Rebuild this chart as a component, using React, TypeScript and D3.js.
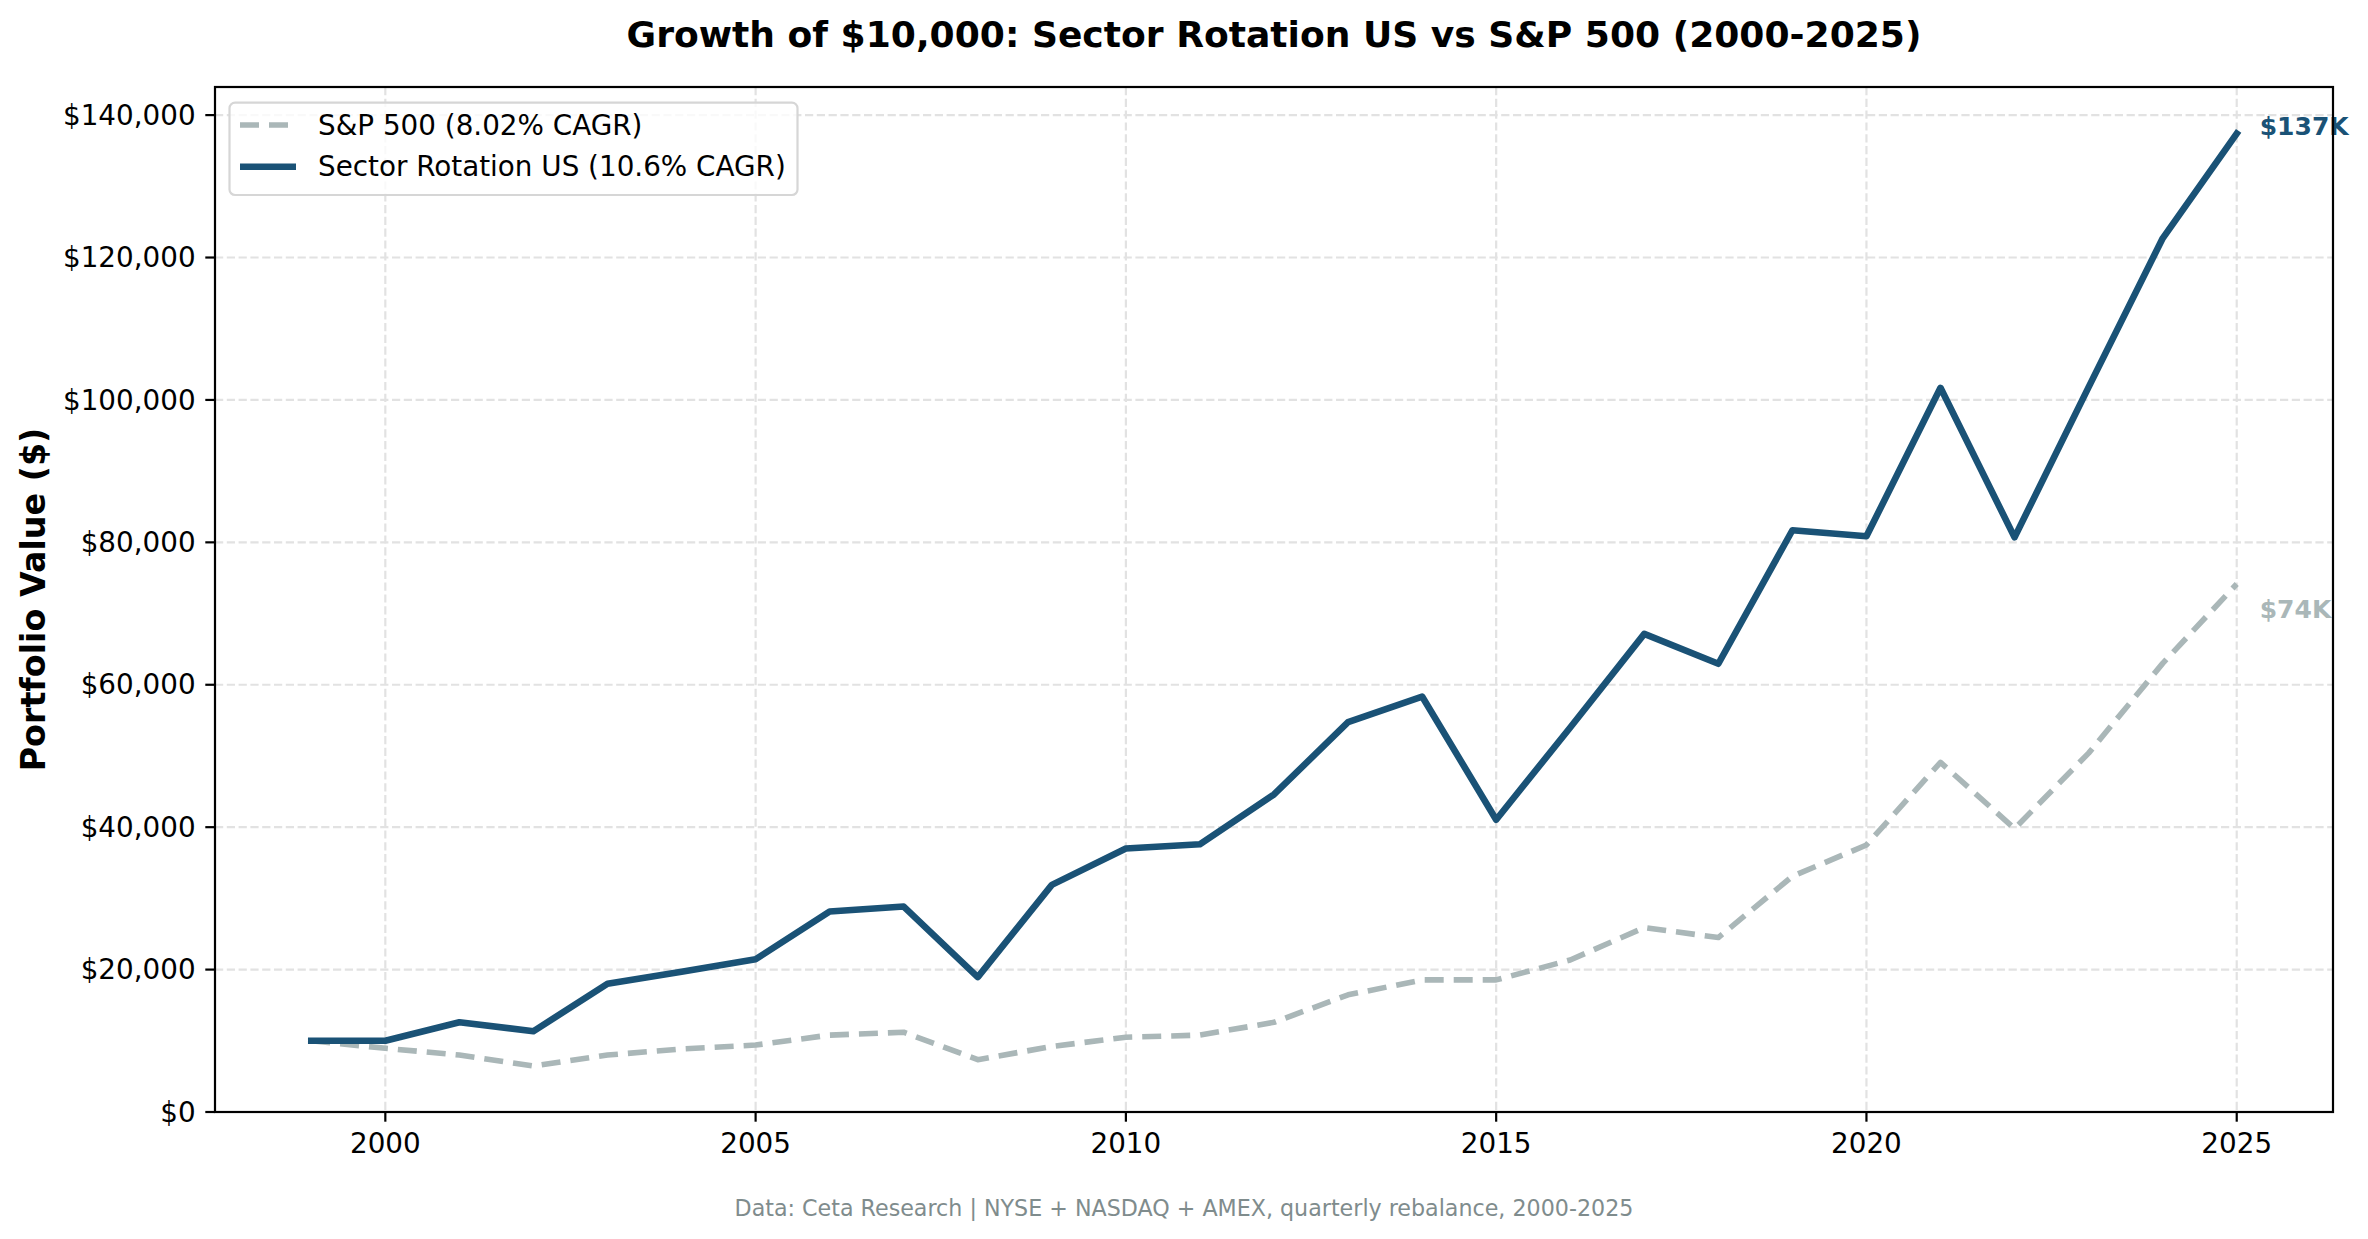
import { useEffect, useRef } from 'react';
import * as d3 from 'd3';

const years = [
  1999, 2000, 2001, 2002, 2003, 2004, 2005, 2006, 2007, 2008, 2009, 2010, 2011, 2012,
  2013, 2014, 2015, 2016, 2017, 2018, 2019, 2020, 2021, 2022, 2023, 2024, 2025,
];

const rotationValues = [
  10000, 10000, 12600, 11350, 18000, 19700, 21450, 28150, 28850, 18950, 31900, 37000, 37600,
  44600, 54750, 58350, 41050, 54000, 67150, 62950, 81700, 80850, 101700, 80700, 101800,
  122700, 137400,
];

const sp500Values = [
  10000, 8950, 8000, 6450, 8000, 8850, 9400, 10800, 11200, 7350, 9200, 10500, 10800, 12600,
  16450, 18550, 18550, 21350, 25900, 24500, 33100, 37500, 49100, 39800, 50400, 63000, 74150,
];

const seriesLabels = ['S&P 500 (8.02% CAGR)', 'Sector Rotation US (10.6% CAGR)'];

const xTicks = [2000, 2005, 2010, 2015, 2020, 2025];
const yTicks = [0, 20000, 40000, 60000, 80000, 100000, 120000, 140000];

const TITLE = 'Growth of $10,000: Sector Rotation US vs S&P 500 (2000-2025)';
const Y_LABEL = 'Portfolio Value ($)';
const FOOTER = 'Data: Ceta Research | NYSE + NASDAQ + AMEX, quarterly rebalance, 2000-2025';

const ROTATION_COLOR = '#1a5276';
const SP_COLOR = '#aab7b8';
const FONT = "'DejaVu Sans', sans-serif";

export default function App() {
  const svgRef = useRef<SVGSVGElement | null>(null);

  useEffect(() => {
    document.body.style.margin = '0';
    const node = svgRef.current;
    if (!node) return;

    const width = 2368;
    const height = 1239;
    const margin = { top: 87, right: 35, bottom: 127, left: 215 };
    const left = margin.left;
    const right = width - margin.right;
    const top = margin.top;
    const bottom = height - margin.bottom;

    const svg = d3.select(node);
    svg.selectAll('*').remove();

    svg.append('rect').attr('width', width).attr('height', height).attr('fill', '#ffffff');

    // matplotlib-like 5% x margins, y starts at 0
    const xMin = d3.min(years)!;
    const xMax = d3.max(years)!;
    const xPad = (xMax - xMin) * 0.05;
    const x = d3
      .scaleLinear()
      .domain([xMin - xPad, xMax + xPad])
      .range([left, right]);

    const allVals = [...rotationValues, ...sp500Values];
    const vMax = d3.max(allVals)!;
    const vMin = d3.min(allVals)!;
    const y = d3
      .scaleLinear()
      .domain([0, vMax + (vMax - vMin) * 0.05])
      .range([bottom, top]);

    // Grid
    const grid = svg.append('g');
    xTicks.forEach((t) => {
      grid
        .append('line')
        .attr('x1', x(t))
        .attr('x2', x(t))
        .attr('y1', top)
        .attr('y2', bottom)
        .attr('stroke', '#e2e2e2')
        .attr('stroke-width', 2.2)
        .attr('stroke-dasharray', '8.2 3.6');
    });
    yTicks.forEach((t) => {
      grid
        .append('line')
        .attr('x1', left)
        .attr('x2', right)
        .attr('y1', y(t))
        .attr('y2', y(t))
        .attr('stroke', '#e2e2e2')
        .attr('stroke-width', 2.2)
        .attr('stroke-dasharray', '8.2 3.6');
    });

    const line = d3
      .line<number>()
      .x((_, i) => x(years[i]))
      .y((d) => y(d));

    // S&P 500 (dashed)
    svg
      .append('path')
      .attr('d', line(sp500Values))
      .attr('fill', 'none')
      .attr('stroke', SP_COLOR)
      .attr('stroke-width', 5.6)
      .attr('stroke-dasharray', '19 10')
      .attr('stroke-linejoin', 'round')
      .attr('stroke-linecap', 'butt');

    // Sector rotation
    svg
      .append('path')
      .attr('d', line(rotationValues))
      .attr('fill', 'none')
      .attr('stroke', ROTATION_COLOR)
      .attr('stroke-width', 6.6)
      .attr('stroke-linejoin', 'round')
      .attr('stroke-linecap', 'square');

    // End labels
    const lastIdx = years.length - 1;
    const fmtK = (v: number) => `$${Math.round(v / 1000)}K`;
    svg
      .append('text')
      .attr('x', x(years[lastIdx]) + 23)
      .attr('y', y(rotationValues[lastIdx]) - 7)
      .attr('dy', '0.35em')
      .attr('font-family', FONT)
      .attr('font-size', 25)
      .attr('font-weight', 'bold')
      .attr('fill', ROTATION_COLOR)
      .text(fmtK(rotationValues[lastIdx]));
    svg
      .append('text')
      .attr('x', x(years[lastIdx]) + 23)
      .attr('y', y(sp500Values[lastIdx]) + 25)
      .attr('dy', '0.35em')
      .attr('font-family', FONT)
      .attr('font-size', 25)
      .attr('font-weight', 'bold')
      .attr('fill', SP_COLOR)
      .text(fmtK(sp500Values[lastIdx]));

    // Spines
    svg
      .append('rect')
      .attr('x', left)
      .attr('y', top)
      .attr('width', right - left)
      .attr('height', bottom - top)
      .attr('fill', 'none')
      .attr('stroke', '#000000')
      .attr('stroke-width', 2.2);

    // X axis ticks
    const tickLen = 9.7;
    const tickPad = 9.7;
    xTicks.forEach((t) => {
      svg
        .append('line')
        .attr('x1', x(t))
        .attr('x2', x(t))
        .attr('y1', bottom)
        .attr('y2', bottom + tickLen)
        .attr('stroke', '#000')
        .attr('stroke-width', 2.2);
      svg
        .append('text')
        .attr('x', x(t))
        .attr('y', bottom + tickLen + tickPad)
        .attr('dy', '0.76em')
        .attr('text-anchor', 'middle')
        .attr('font-family', FONT)
        .attr('font-size', 27.8)
        .attr('fill', '#000')
        .text(String(t));
    });

    // Y axis ticks
    const fmtDollar = d3.format(',');
    yTicks.forEach((t) => {
      svg
        .append('line')
        .attr('x1', left - tickLen)
        .attr('x2', left)
        .attr('y1', y(t))
        .attr('y2', y(t))
        .attr('stroke', '#000')
        .attr('stroke-width', 2.2);
      svg
        .append('text')
        .attr('x', left - tickLen - tickPad)
        .attr('y', y(t))
        .attr('dy', '0.35em')
        .attr('text-anchor', 'end')
        .attr('font-family', FONT)
        .attr('font-size', 27.8)
        .attr('fill', '#000')
        .text(`$${fmtDollar(t)}`);
    });

    // Y label
    svg
      .append('text')
      .attr('transform', `translate(33, ${(top + bottom) / 2}) rotate(-90)`)
      .attr('dy', '0.35em')
      .attr('text-anchor', 'middle')
      .attr('font-family', FONT)
      .attr('font-size', 33.3)
      .attr('font-weight', 'bold')
      .attr('fill', '#000')
      .text(Y_LABEL);

    // Title
    svg
      .append('text')
      .attr('x', (left + right) / 2)
      .attr('y', 47)
      .attr('text-anchor', 'middle')
      .attr('font-family', FONT)
      .attr('font-size', 36.1)
      .attr('font-weight', 'bold')
      .attr('fill', '#000')
      .text(TITLE);

    // Footer
    svg
      .append('text')
      .attr('x', width / 2)
      .attr('y', 1208)
      .attr('dy', '0.35em')
      .attr('text-anchor', 'middle')
      .attr('font-family', FONT)
      .attr('font-size', 22.2)
      .attr('fill', '#7f8c8d')
      .text(FOOTER);

    // Legend
    const lg = svg.append('g');
    lg.append('rect')
      .attr('x', 229.5)
      .attr('y', 102.7)
      .attr('width', 568)
      .attr('height', 92.3)
      .attr('rx', 5.6)
      .attr('fill', '#ffffff')
      .attr('fill-opacity', 0.8)
      .attr('stroke', '#d6d6d6')
      .attr('stroke-width', 2.2);

    const legendItems = [
      { label: seriesLabels[0], color: SP_COLOR, dash: '19 10', w: 5.6 },
      { label: seriesLabels[1], color: ROTATION_COLOR, dash: null, w: 6.6 },
    ];
    legendItems.forEach((item, i) => {
      const cy = 125 + i * 41.7;
      const l = lg
        .append('line')
        .attr('x1', 240)
        .attr('x2', 296)
        .attr('y1', cy)
        .attr('y2', cy)
        .attr('stroke', item.color)
        .attr('stroke-width', item.w);
      if (item.dash) l.attr('stroke-dasharray', item.dash);
      lg.append('text')
        .attr('x', 318)
        .attr('y', cy)
        .attr('dy', '0.35em')
        .attr('font-family', FONT)
        .attr('font-size', 27.8)
        .attr('fill', '#000')
        .text(item.label);
    });
  }, []);

  return <svg ref={svgRef} width={2368} height={1239} style={{ display: 'block' }} />;
}
